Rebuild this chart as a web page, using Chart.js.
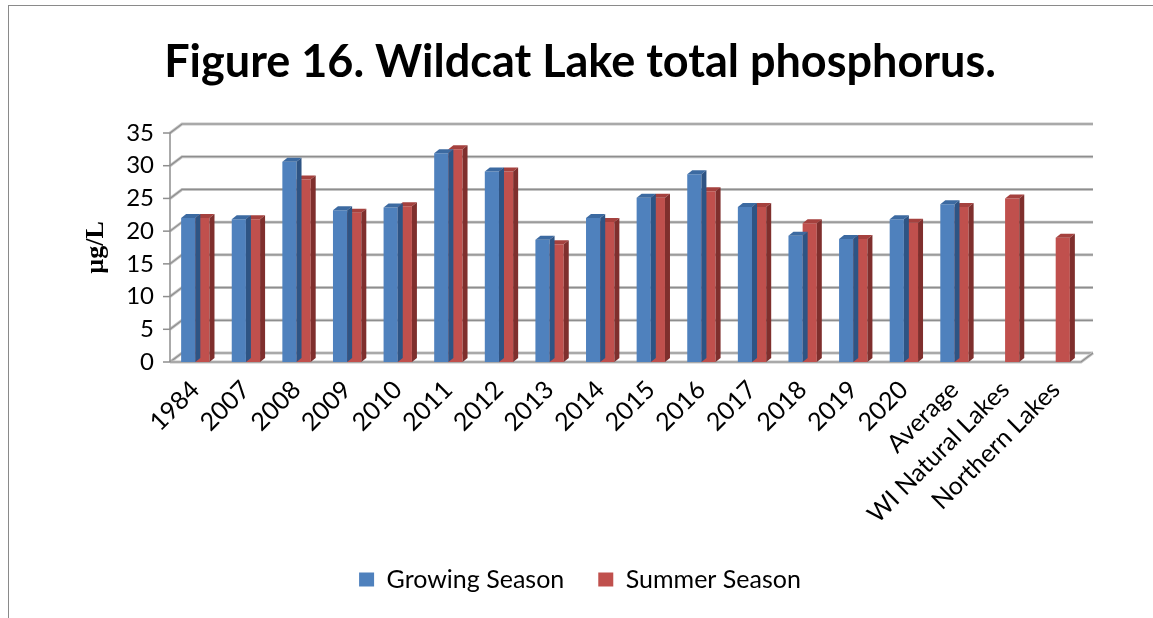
<!DOCTYPE html>
<html>
<head>
<meta charset="utf-8">
<script src="https://cdn.jsdelivr.net/npm/chart.js@4/dist/chart.umd.min.js"></script>
<style>
  html, body { margin: 0; padding: 0; background: #fff; }
  #wrap { position: relative; width: 1153px; height: 618px; overflow: hidden; }
  #frame { position: absolute; left: 8px; top: 5px; width: 1200px; height: 700px;
           border-left: 1px solid #8a8a8a; border-top: 1px solid #8a8a8a; }
  canvas { position: absolute; left: 0; top: 0; }
</style>
</head>
<body>
<div id="wrap">
  <div id="frame"></div>
  <canvas id="tpChart" width="1153" height="618"></canvas>
</div>
<script>
const categories = ['1984', '2007', '2008', '2009', '2010', '2011', '2012', '2013', '2014',
  '2015', '2016', '2017', '2018', '2019', '2020', 'Average', 'WI Natural Lakes', 'Northern Lakes'];

// total phosphorus, ug/L
const growingSeason = [22.0, 21.8, 30.6, 23.2, 23.6, 31.9, 29.1, 18.7, 22.0,
  25.1, 28.7, 23.7, 19.3, 18.8, 21.8, 24.1, null, null];
const summerSeason = [22.0, 21.8, 27.9, 22.8, 23.8, 32.5, 29.1, 18.0, 21.4,
  25.1, 26.1, 23.7, 21.2, 18.8, 21.3, 23.7, 25.0, 19.0];

const yTicks = [0, 5, 10, 15, 20, 25, 30, 35];

const FONT = 'Lato, "Open Sans", sans-serif';

// side/top shading for the fake 3d columns
const faceColors = [
  { top: '#3c6aa1', side: '#2e5484' },
  { top: '#a5413e', side: '#7f2f2d' }
];

// back wall offset and column depth
const WALL = { dx: 12, dy: -9 };
const DEPTH = { dx: 5, dy: -4 };

const wallPlugin = {
  id: 'wall',
  beforeDatasetsDraw(chart) {
    const { ctx, chartArea: a, scales: { y } } = chart;
    ctx.save();
    yTicks.forEach(v => {
      const py = y.getPixelForValue(v);
      ctx.beginPath();
      ctx.moveTo(a.left, py);
      ctx.lineTo(a.left + WALL.dx, py + WALL.dy);
      ctx.lineTo(a.right + WALL.dx, py + WALL.dy);
      ctx.strokeStyle = '#c4c4c4';
      ctx.lineWidth = 3;
      ctx.stroke();
      ctx.strokeStyle = '#8e8e8e';
      ctx.lineWidth = 1.2;
      ctx.stroke();
      // small tick left of the axis
      ctx.beginPath();
      ctx.moveTo(a.left - 7, py);
      ctx.lineTo(a.left, py);
      ctx.strokeStyle = '#8e8e8e';
      ctx.lineWidth = 1.5;
      ctx.stroke();
    });
    // floor edges
    const y0 = y.getPixelForValue(0);
    ctx.beginPath();
    ctx.moveTo(a.left, y0);
    ctx.lineTo(a.right, y0);
    ctx.lineTo(a.right + WALL.dx, y0 + WALL.dy);
    ctx.strokeStyle = '#c4c4c4';
    ctx.lineWidth = 3;
    ctx.stroke();
    ctx.strokeStyle = '#8e8e8e';
    ctx.lineWidth = 1.2;
    ctx.stroke();
    // front axis line
    ctx.beginPath();
    ctx.moveTo(a.left, y0);
    ctx.lineTo(a.left, y.getPixelForValue(35));
    ctx.strokeStyle = '#8e8e8e';
    ctx.lineWidth = 1.5;
    ctx.stroke();
    ctx.restore();
  },
  afterDatasetDraw(chart, args) {
    const { ctx } = chart;
    const colors = faceColors[args.index];
    const ds = chart.data.datasets[args.index];
    ctx.save();
    args.meta.data.forEach((bar, i) => {
      if (ds.data[i] == null) return;
      const { x, y, base, width } = bar.getProps(['x', 'y', 'base', 'width'], true);
      const l = x - width / 2, r = x + width / 2;
      ctx.fillStyle = colors.top;
      ctx.beginPath();
      ctx.moveTo(l, y);
      ctx.lineTo(r, y);
      ctx.lineTo(r + DEPTH.dx, y + DEPTH.dy);
      ctx.lineTo(l + DEPTH.dx, y + DEPTH.dy);
      ctx.closePath();
      ctx.fill();
      ctx.fillStyle = colors.side;
      ctx.beginPath();
      ctx.moveTo(r, y);
      ctx.lineTo(r + DEPTH.dx, y + DEPTH.dy);
      ctx.lineTo(r + DEPTH.dx, base + DEPTH.dy);
      ctx.lineTo(r, base);
      ctx.closePath();
      ctx.fill();
    });
    ctx.restore();
  }
};

new Chart(document.getElementById('tpChart'), {
  type: 'bar',
  data: {
    labels: categories,
    datasets: [
      { label: 'Growing Season', data: growingSeason, backgroundColor: '#4f81bd' },
      { label: 'Summer Season', data: summerSeason, backgroundColor: '#c0504d' }
    ]
  },
  options: {
    responsive: false,
    animation: false,
    events: [],
    layout: { padding: { left: 79, right: 72, top: 0, bottom: 16 } },
    datasets: { bar: { categoryPercentage: 0.56, barPercentage: 1.0 } },
    plugins: {
      title: {
        display: true,
        text: 'Figure 16. Wildcat Lake total phosphorus.',
        color: '#000',
        font: { family: FONT, weight: 'bold', size: 45, lineHeight: 1.2 },
        padding: { top: 35, bottom: 44 }
      },
      legend: {
        position: 'bottom',
        labels: {
          color: '#000',
          font: { family: FONT, size: 25 },
          boxWidth: 15,
          boxHeight: 14,
          padding: 34
        }
      },
      tooltip: { enabled: false }
    },
    scales: {
      x: {
        grid: { display: false, drawTicks: false },
        border: { display: false },
        ticks: {
          color: '#000',
          font: { family: FONT, size: 25 },
          minRotation: 45,
          maxRotation: 45,
          autoSkip: false,
          padding: 13
        },
        afterFit(s) {
          s.height = s.chart.height - 362 - s.chart.legend.height - 16;
        }
      },
      y: {
        min: 0,
        max: 35,
        grid: { display: false, drawTicks: false },
        border: { display: false },
        ticks: {
          stepSize: 5,
          color: '#000',
          font: { family: FONT, size: 24 },
          padding: 16
        },
        title: {
          display: true,
          text: 'µg/L',
          color: '#000',
          font: { family: '"Liberation Serif", serif', weight: 'bold', size: 26 },
          padding: { top: 2, bottom: 0 }
        },
        afterFit(s) {
          s.width = 91;
        }
      }
    }
  },
  plugins: [wallPlugin]
});
</script>
</body>
</html>
